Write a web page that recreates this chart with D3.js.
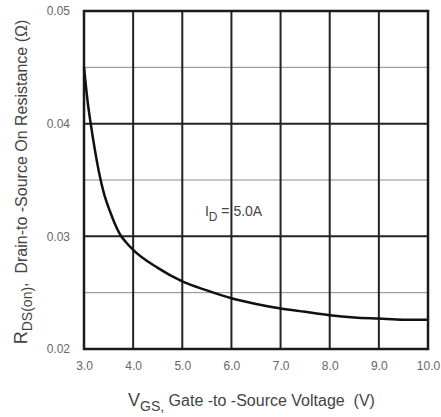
<!DOCTYPE html>
<html>
<head>
<meta charset="utf-8">
<script src="https://cdn.jsdelivr.net/npm/d3@7"></script>
<style>
  body { margin: 0; background: #fff; }
  text { font-family: "Liberation Sans", Arial, sans-serif; }
</style>
</head>
<body>
<svg id="chart" width="441" height="417"></svg>
<script>
// curve, ID = 5.0A
var vgs = [3.0, 3.07, 3.14, 3.22, 3.3, 3.4, 3.53, 3.63, 3.73, 3.85, 4.0, 4.5, 5.0, 5.5, 6.0, 6.5, 7.0, 7.5, 8.0, 8.5, 9.0, 9.5, 10.0];
var rds = [0.0450, 0.0421, 0.0399, 0.0377, 0.0358, 0.0339, 0.0322, 0.0311, 0.0302, 0.0295, 0.0288, 0.0272, 0.0260,
           0.0252, 0.0245, 0.0240, 0.0236, 0.0233, 0.0230, 0.0228, 0.0227, 0.0226, 0.0226];
var xTicks = [3, 4, 5, 6, 7, 8, 9, 10];
var yTicks = [0.02, 0.03, 0.04, 0.05];
var yMinor = [0.025, 0.035, 0.045];

var margin = {left: 84, right: 13, top: 11, bottom: 68};
var width = 441 - margin.left - margin.right,
    height = 417 - margin.top - margin.bottom;

var svg = d3.select('#chart');
var g = svg.append('g').attr('transform', 'translate(' + margin.left + ',' + margin.top + ')');

var x = d3.scaleLinear().domain([3, 10]).range([0, width]);
var y = d3.scaleLinear().domain([0.02, 0.05]).range([height, 0]);

// minor horizontal grid
g.selectAll('line.minor').data(yMinor).enter().append('line')
  .attr('class', 'minor')
  .attr('x1', 0).attr('x2', width)
  .attr('y1', function(d) { return y(d); })
  .attr('y2', function(d) { return y(d); })
  .attr('stroke', '#8a8a8a').attr('stroke-width', 1);

// major horizontal grid
g.selectAll('line.major').data(yTicks).enter().append('line')
  .attr('class', 'major')
  .attr('x1', 0).attr('x2', width)
  .attr('y1', function(d) { return y(d); })
  .attr('y2', function(d) { return y(d); })
  .attr('stroke', '#222').attr('stroke-width', 2);

// vertical grid
g.selectAll('line.vert').data(xTicks).enter().append('line')
  .attr('class', 'vert')
  .attr('y1', 0).attr('y2', height)
  .attr('x1', function(d) { return x(d); })
  .attr('x2', function(d) { return x(d); })
  .attr('stroke', '#222').attr('stroke-width', 2);

g.append('rect')
  .attr('width', width).attr('height', height)
  .attr('fill', 'none').attr('stroke', '#1a1a1a').attr('stroke-width', 2.5);

// axes (labels only)
var xAxis = d3.axisBottom(x).tickValues(xTicks).tickSize(0).tickPadding(12)
  .tickFormat(d3.format('.1f'));
var yAxis = d3.axisLeft(y).tickValues(yTicks).tickSize(0).tickPadding(14)
  .tickFormat(d3.format('.2f'));

var xg = g.append('g').attr('transform', 'translate(0,' + height + ')').call(xAxis);
var yg = g.append('g').call(yAxis);
[xg, yg].forEach(function(a) {
  a.select('.domain').remove();
  a.selectAll('text').attr('font-size', 12).attr('fill', '#666')
    .attr('font-family', '"Liberation Sans", Arial, sans-serif');
});

// the curve
var line = d3.line()
  .x(function(d, i) { return x(vgs[i]); })
  .y(function(d) { return y(d); })
  .curve(d3.curveMonotoneX);

g.append('path')
  .datum(rds)
  .attr('d', line)
  .attr('fill', 'none')
  .attr('stroke', '#111')
  .attr('stroke-width', 2.5);

// annotation
var ann = g.append('text')
  .attr('x', x(5.46)).attr('y', y(0.0318))
  .attr('font-size', 14).attr('fill', '#444');
ann.append('tspan').text('I');
ann.append('tspan').attr('font-size', 12).attr('dy', 5).text('D');
ann.append('tspan').attr('dy', -5).text('\u00a0= 5.0A');

// x title
var xt = svg.append('text')
  .attr('x', 128).attr('y', 406)
  .attr('font-size', 16).attr('fill', '#444');
xt.append('tspan').attr('font-size', 18).text('V');
xt.append('tspan').attr('font-size', 14).attr('dy', 5).text('GS,');
xt.append('tspan').attr('dy', -5).text(' Gate -to -Source Voltage\u00a0\u00a0(V)');

// y title
var yt = svg.append('text')
  .attr('transform', 'translate(27,182) rotate(-90)')
  .attr('text-anchor', 'middle')
  .attr('font-size', 16).attr('fill', '#444');
yt.append('tspan').attr('font-size', 18).text('R');
yt.append('tspan').attr('font-size', 14).attr('dy', 5).text('DS(on)');
yt.append('tspan').attr('dy', -5).text(',\u00a0\u00a0Drain-to -Source On Resistance (Ω)');
</script>
</body>
</html>
